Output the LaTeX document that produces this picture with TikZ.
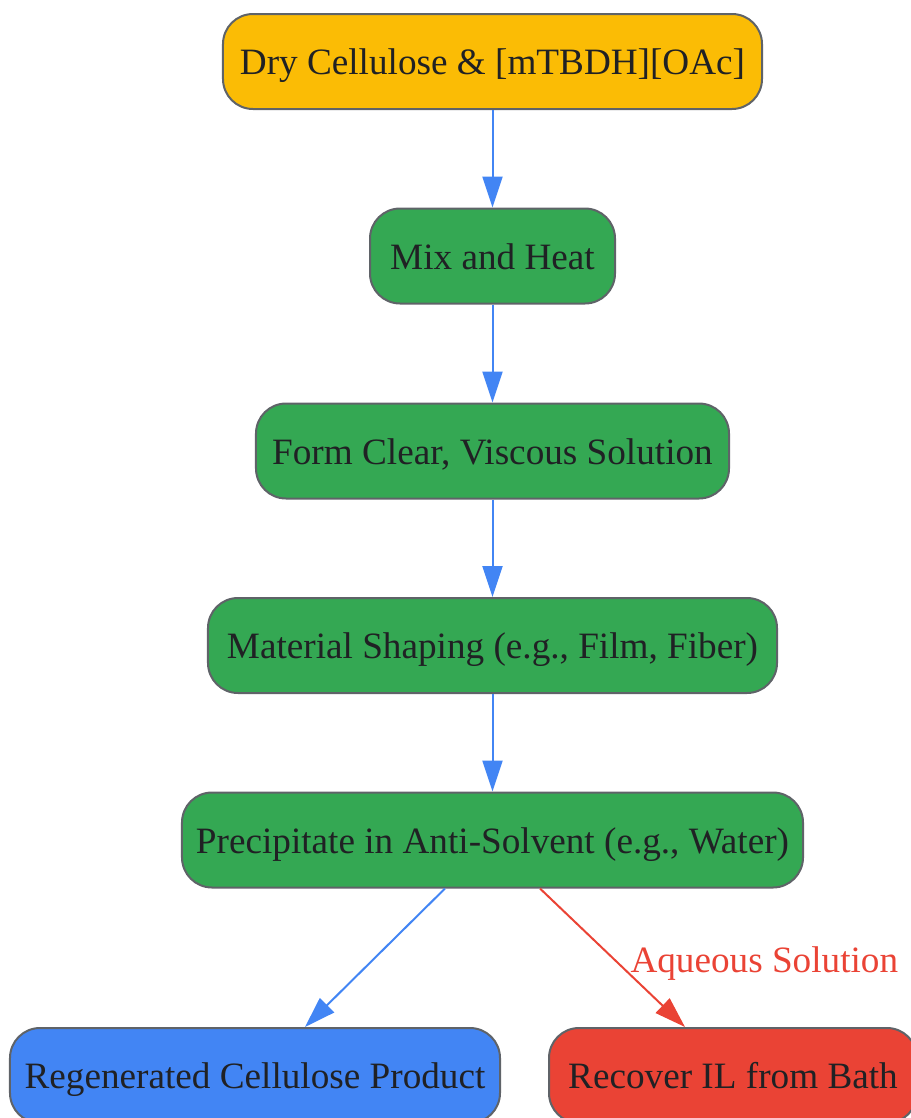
\documentclass[tikz,border=0pt]{standalone}
\usepackage{fontspec}
\setmainfont{Liberation Serif}
\usetikzlibrary{arrows.meta,calc}
\definecolor{gyellow}{HTML}{FBBC05}
\definecolor{ggreen}{HTML}{34A853}
\definecolor{gblue}{HTML}{4285F4}
\definecolor{gred}{HTML}{EA4335}
\definecolor{gborder}{HTML}{5F6368}
\definecolor{gtext}{HTML}{202124}
\tikzset{
  flowbox/.style={draw=gborder, line width=2bp, rounded corners=30bp,
    minimum height=95bp, inner sep=0pt, text=gtext,
    font=\fontsize{37.2bp}{44bp}\selectfont, text height=30bp, text depth=4bp},
  flowarrow/.style={line width=2bp, -{Triangle[length=31bp,width=20bp]}},
}
\begin{document}
\begin{tikzpicture}[x=1bp,y=-1bp]
\useasboundingbox (0,0) rectangle (911,1118);
\node[flowbox, fill=gyellow, minimum width=539bp] (n1) at (492.5,61.5) {Dry Cellulose \& [mTBDH][OAc]};
\node[flowbox, fill=ggreen, minimum width=245bp] (n2) at (492.5,256) {Mix and Heat};
\node[flowbox, fill=ggreen, minimum width=473bp] (n3) at (492.5,451) {Form Clear, Viscous Solution};
\node[flowbox, fill=ggreen, minimum width=569bp] (n4) at (492.5,645.5) {Material Shaping (e.g., Film, Fiber)};
\node[flowbox, fill=ggreen, minimum width=621bp] (n5) at (492.5,840) {Precipitate in Anti-Solvent (e.g., Water)};
\node[flowbox, fill=gblue, minimum width=490bp] (n6) at (255,1075.5) {Regenerated Cellulose Product};
\node[flowbox, fill=gred, minimum width=368bp] (n7) at (733,1075.5) {Recover IL from Bath};
\draw[flowarrow, gblue] (n1) -- (n2);
\draw[flowarrow, gblue] (n2) -- (n3);
\draw[flowarrow, gblue] (n3) -- (n4);
\draw[flowarrow, gblue] (n4) -- (n5);
\draw[flowarrow, gblue] ($(n5.south)+(-47.5,0)$) -- ($(n6.north)+(50,0)$);
\draw[flowarrow, gred] ($(n5.south)+(47.5,0)$) -- ($(n7.north)+(-48,0)$)
  node[pos=0.5, right, xshift=17bp, yshift=-6bp, text=gred, inner sep=0pt, font=\fontsize{37.2bp}{44bp}\selectfont] (lbl) {Aqueous Solution};
\end{tikzpicture}
\end{document}
